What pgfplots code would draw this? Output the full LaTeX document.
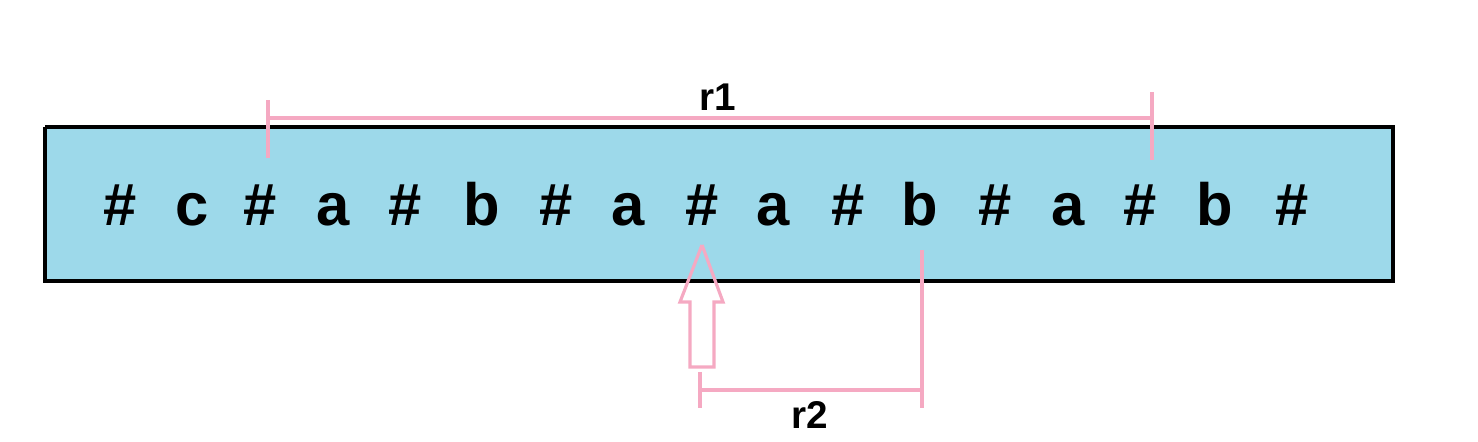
\documentclass[border=0pt]{standalone}
\usepackage{pgfplots}
\pgfplotsset{compat=1.18}
\usepackage{fontspec}
\setmainfont{Liberation Sans}
\definecolor{boxblue}{HTML}{9DD9EA}
\definecolor{pinkline}{HTML}{F5A9C2}
\begin{document}
\begin{tikzpicture}
\begin{axis}[scale only axis, width=14.78cm, height=4.42cm,
  xmin=0, xmax=1478, ymin=-442, ymax=0, hide axis, clip=false]
\addplot[draw=none] coordinates {(0,0) (1478,-442)};
\addplot[draw=black, line width=1.2pt, fill=boxblue] coordinates {(45,-127) (1393,-127) (1393,-281) (45,-281) (45,-127)};
% characters
\foreach \x/\c in {120/\#,192/c,260/\#,333/a,405/\#,482/b,556/\#,628/a,702/\#,773/a,848/\#,920/b,995/\#,1068/a,1140/\#,1215/b,1292/\#}{
  \edef\tmp{\noexpand\node[font=\noexpand\fontsize{17}{20}\noexpand\selectfont\noexpand\bfseries, anchor=base] at (axis cs:\x,-226) {\c};}
  \tmp
}
% r1
\addplot[pinkline, line width=0.9pt] coordinates {(268,-118) (1152,-118)};
\addplot[pinkline, line width=0.9pt] coordinates {(268,-100) (268,-158)};
\addplot[pinkline, line width=0.9pt] coordinates {(1152,-92) (1152,-160)};
\node[font=\fontsize{11}{13}\selectfont\bfseries] at (axis cs:718,-97) {r1};
% r2
\addplot[pinkline, line width=0.9pt] coordinates {(922,-250) (922,-408)};
\addplot[pinkline, line width=0.9pt] coordinates {(700,-390) (922,-390)};
\addplot[pinkline, line width=0.9pt] coordinates {(700,-372) (700,-408)};
\node[font=\fontsize{11}{13}\selectfont\bfseries] at (axis cs:810,-415) {r2};
% hollow arrow
\addplot[pinkline, line width=0.9pt] coordinates {(702,-245) (680,-302) (690,-302) (690,-367) (714,-367) (714,-302) (723,-302) (702,-245)};
\end{axis}
\end{tikzpicture}
\end{document}
